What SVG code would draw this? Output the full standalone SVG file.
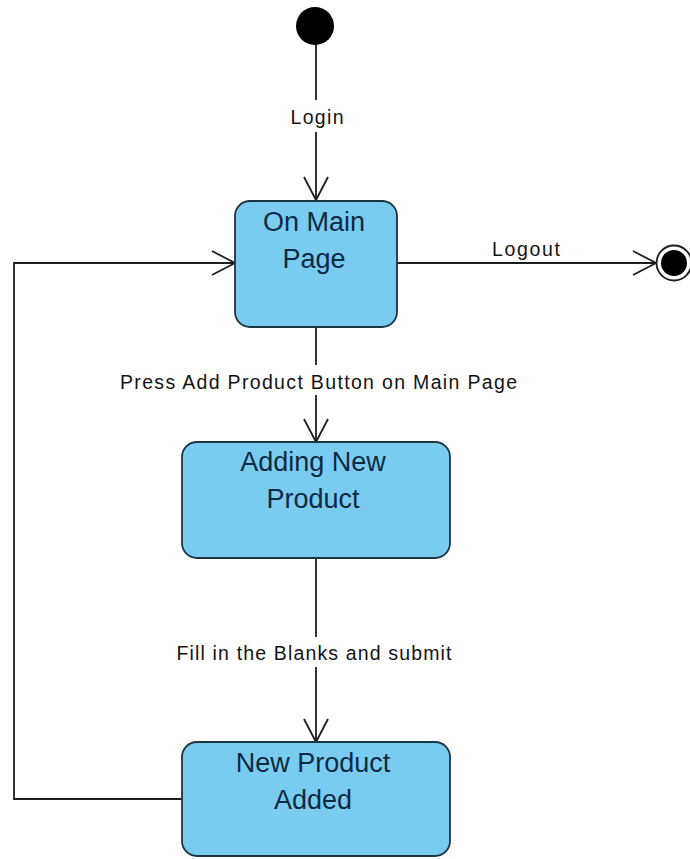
<svg xmlns="http://www.w3.org/2000/svg" width="690" height="859" viewBox="0 0 690 859">
<style>
.state{fill:#79CCF0;stroke:#1d3442;stroke-width:1.8}
.stext{font-family:"Liberation Sans",Arial,sans-serif;font-size:27px;fill:#0e2a42;text-anchor:middle}
.edge{fill:none;stroke:#1e1e1e;stroke-width:1.8}
.lbl{font-family:"Liberation Sans",Arial,sans-serif;font-size:19.5px;fill:#141414;text-anchor:middle}
.lblbg{fill:#ffffff}
</style>
<defs>
<marker id="open" viewBox="-25 -14 27 28" refX="0" refY="0" markerWidth="27" markerHeight="28" markerUnits="userSpaceOnUse" orient="auto">
<path d="M-23,-12 L0,0 L-23,12" fill="none" stroke="#1e1e1e" stroke-width="1.8"/>
</marker>
</defs>
<rect width="690" height="859" fill="#ffffff"/>
<g id="connectors">
<path class="edge" d="M316,44 L316,200" marker-end="url(#open)"/>
<rect class="lblbg" x="286" y="100" width="62" height="32"/>
<text class="lbl" x="317" y="124" textLength="53" lengthAdjust="spacing">Login</text>
<path class="edge" d="M397,263 L656,263" marker-end="url(#open)"/>
<text class="lbl" x="526" y="256" textLength="68" lengthAdjust="spacing">Logout</text>
<path class="edge" d="M316,327 L316,442" marker-end="url(#open)"/>
<rect class="lblbg" x="116" y="365" width="405" height="30"/>
<text class="lbl" x="318.5" y="389" textLength="397" lengthAdjust="spacing">Press Add Product Button on Main Page</text>
<path class="edge" d="M316,558 L316,742" marker-end="url(#open)"/>
<rect class="lblbg" x="172" y="637" width="284" height="30"/>
<text class="lbl" x="314" y="660" textLength="275" lengthAdjust="spacing">Fill in the Blanks and submit</text>
<path class="edge" d="M182,799 L14,799 L14,263 L235,263" marker-end="url(#open)"/>
</g>
<g id="initial">
<circle cx="315" cy="26" r="19" fill="#000000"/>
</g>
<g id="final">
<circle cx="674" cy="263" r="17.5" fill="#ffffff" stroke="#1e1e1e" stroke-width="1.8"/>
<circle cx="674" cy="263" r="13" fill="#000000"/>
</g>
<g id="onMainPage">
<rect class="state" x="235" y="201" width="162" height="126" rx="15" ry="15"/>
<text class="stext" x="314" y="231">On Main</text>
<text class="stext" x="314" y="268">Page</text>
</g>
<g id="addingNewProduct">
<rect class="state" x="182" y="442" width="268" height="116" rx="15" ry="15"/>
<text class="stext" x="313" y="471">Adding New</text>
<text class="stext" x="313" y="508">Product</text>
</g>
<g id="newProductAdded">
<rect class="state" x="182" y="742" width="268" height="114" rx="15" ry="15"/>
<text class="stext" x="313" y="772">New Product</text>
<text class="stext" x="313" y="809">Added</text>
</g>
</svg>
